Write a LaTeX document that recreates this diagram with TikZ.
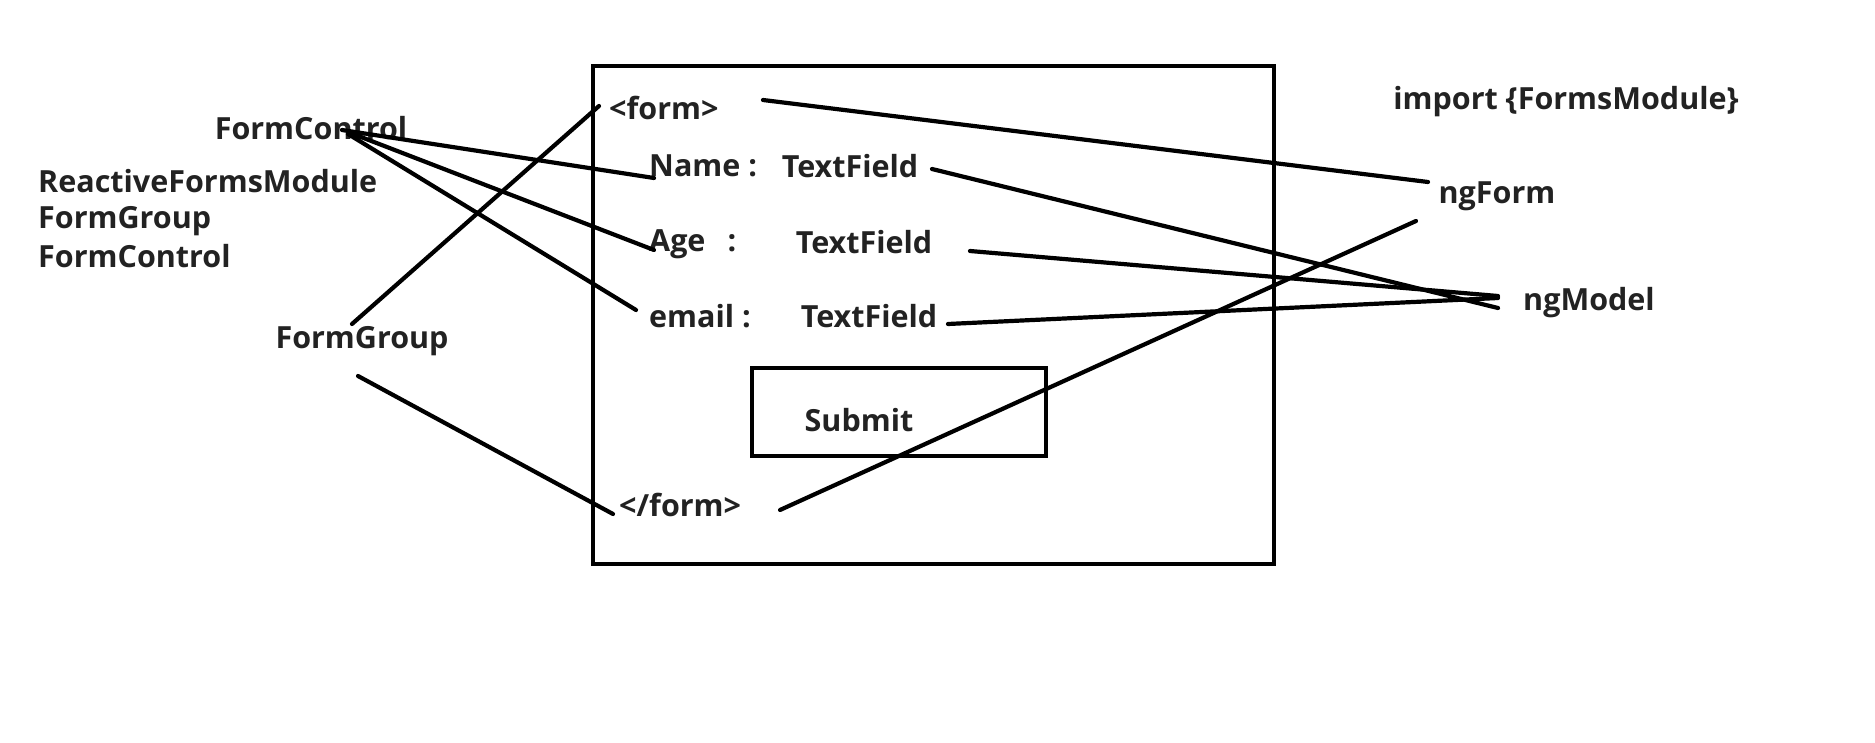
\documentclass[tikz,border=0pt]{standalone}
\usepackage{fontspec}
\usepackage{tikz}
\usepackage{xcolor}
\setmainfont{Open Sans}
\definecolor{inkgray}{HTML}{222222}
\tikzset{
    label/.style={font=\fontsize{30.5}{36}\selectfont\bfseries, text=inkgray, inner sep=0pt},
    wire/.style={line width=4.2pt, line cap=round},
    frame/.style={line width=4pt}
}

\begin{document}
\begin{tikzpicture}[x=1pt, y=-1pt]
            \useasboundingbox (0,0) rectangle (1875,743);
            % form box
            \draw[frame] (593,66) rectangle (1274,564);
            \node[draw, frame, minimum width=294pt, minimum height=88pt] (submitbox) at (899,412) {};
            \node[label] (submit) at (859,420) {Submit};
            
            \node[label, anchor=west] (formopen)  at (609,108) {<form>};
            \node[label, anchor=west] (formclose) at (619,505) {</form>};
            
            \node[label, anchor=west] (name)  at (649,166) {Name :};
            \node[label, anchor=west] (age)   at (649,244) {Age\hspace{22pt}:};
            \node[label, anchor=west] (email) at (649,316) {email :};
            
            \node[label] (namefield)  at (850,166) {TextField};
            \node[label] (agefield)   at (864,242) {TextField};
            \node[label] (emailfield) at (869,316) {TextField};
            
            % left side
            \node[label] (formcontrol) at (311,128) {FormControl};
            \node[label, anchor=west] (reactive) at (38,181) {ReactiveFormsModule};
            \node[label, anchor=west] (group2)   at (38,221) {FormGroup};
            \node[label, anchor=west] (control2) at (38,256) {FormControl};
            \node[label] (formgroup) at (362,341) {FormGroup};
            
            % right side
            \node[label] (import)  at (1566,102) {import \{FormsModule\}};
            \node[label] (ngform)  at (1497,196) {ngForm};
            \node[label] (ngmodel) at (1589,303) {ngModel};
            
            % line ends
            \coordinate (fcA) at (342,130);
            \coordinate (fcB) at (348,132);
            \coordinate (fcC) at (348,134);
            \coordinate (fgA) at (352,324);
            \coordinate (fgB) at (358,376);
            \coordinate (nameA)  at (654,178);
            \coordinate (ageA)   at (654,250);
            \coordinate (emailA) at (636,310);
            \coordinate (openA)  at (599,106);
            \coordinate (openB)  at (763,100);
            \coordinate (closeA) at (613,514);
            \coordinate (closeB) at (780,510);
            \coordinate (nfA) at (1428,182);
            \coordinate (nfB) at (1416,221);
            \coordinate (nameB)  at (932,169);
            \coordinate (ageB)   at (970,251);
            \coordinate (emailB) at (948,324);
            \coordinate (nmA) at (1498,308);
            \coordinate (nmB) at (1498,296);
            \coordinate (nmC) at (1498,298);
            
            \draw[wire] (fcA)--(nameA);
            \draw[wire] (fcB)--(ageA);
            \draw[wire] (fcC)--(emailA);
            \draw[wire] (fgA)--(openA);
            \draw[wire] (fgB)--(closeA);
            
            \draw[wire] (openB)--(nfA);
            \draw[wire] (closeB)--(nfB);
            
            \draw[wire] (nameB)--(nmA);
            \draw[wire] (ageB)--(nmB);
            \draw[wire] (emailB)--(nmC);
\end{tikzpicture}
\end{document}
